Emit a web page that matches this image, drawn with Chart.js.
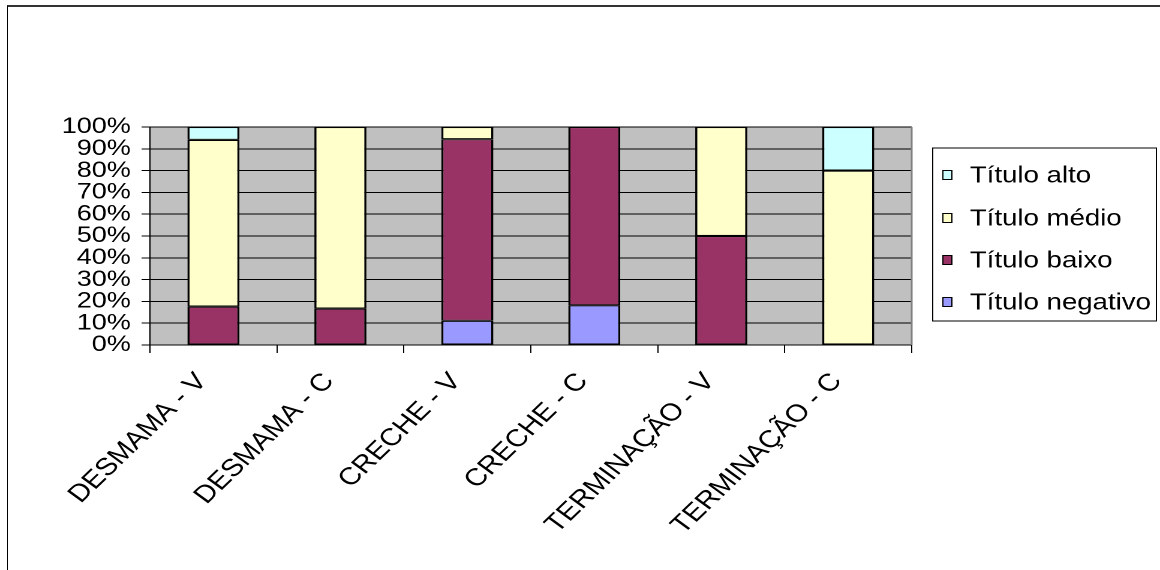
<!DOCTYPE html>
<html>
<head>
<meta charset="utf-8">
<script src="https://cdn.jsdelivr.net/npm/chart.js@4.4.1/dist/chart.umd.min.js"></script>
<style>
  html, body { margin: 0; padding: 0; background: #fff; overflow: hidden; }
  #frame {
    position: absolute; left: 7px; top: 5px; width: 1200px; height: 600px;
    border-left: 1px solid #000; border-top: 2px solid #333;
  }
  /* the chart is laid out 967px wide and widened to the full 1160px */
  #wrap {
    position: absolute; left: 0; top: 0; width: 967px; height: 570px;
    transform: scaleX(1.19959); transform-origin: 0 0;
  }
  #c { width: 967px; height: 570px; display: block; }
</style>
</head>
<body>
<div id="frame"></div>
<div id="wrap"><canvas id="c" width="967" height="570"></canvas></div>
<script>
const categories = ['DESMAMA - V', 'DESMAMA - C', 'CRECHE - V', 'CRECHE - C', 'TERMINAÇÃO - V', 'TERMINAÇÃO - C'];
const seriesNames = ['Título negativo', 'Título baixo', 'Título médio', 'Título alto'];
const tituloNegativo = [0, 0, 11.1, 18.2, 0, 0];
const tituloBaixo    = [17.6, 16.7, 83.3, 81.8, 50, 0];
const tituloMedio    = [76.5, 83.3, 5.6, 0, 50, 80];
const tituloAlto     = [5.9, 0, 0, 0, 0, 20];
const yTicks = [0, 10, 20, 30, 40, 50, 60, 70, 80, 90, 100];
const seriesColors = ['#9999ff', '#993366', '#ffffcc', '#ccffff'];

const FONT = '"Liberation Sans", Arial, sans-serif';

// gray plot background and the light right edge of the plot
const plotArea = {
  id: 'plotArea',
  beforeDraw(chart) {
    const { ctx, chartArea: a } = chart;
    ctx.save();
    ctx.fillStyle = '#c0c0c0';
    ctx.fillRect(a.left, a.top, a.right - a.left, a.bottom - a.top);
    ctx.restore();
  },
  afterDraw(chart) {
    const { ctx, chartArea: a } = chart;
    ctx.save();
    ctx.strokeStyle = '#808080';
    ctx.lineWidth = 1.5;
    ctx.beginPath();
    ctx.moveTo(a.right, a.top);
    ctx.lineTo(a.right, a.bottom);
    ctx.stroke();
    ctx.restore();
  }
};

// boxed legend on the right, top series first
const boxLegend = {
  id: 'boxLegend',
  afterDraw(chart) {
    const { ctx } = chart;
    const box = { left: 777.5, top: 148, right: 964, bottom: 321 };
    const rows = [175, 218, 260, 302];
    ctx.save();
    ctx.strokeStyle = '#000';
    ctx.lineWidth = 1;
    ctx.strokeRect(box.left, box.top, box.right - box.left, box.bottom - box.top);
    const ds = chart.data.datasets.slice().reverse();
    ds.forEach((d, i) => {
      const y = rows[i];
      ctx.fillStyle = d.backgroundColor;
      ctx.fillRect(786, y - 4.5, 7.5, 9);
      ctx.strokeStyle = '#000';
      ctx.lineWidth = 1;
      ctx.strokeRect(786, y - 4.5, 7.5, 9);
      ctx.fillStyle = '#000';
      ctx.font = '23px ' + FONT;
      ctx.textAlign = 'left';
      ctx.textBaseline = 'middle';
      ctx.fillText(d.label, 808.5, y + 1);
    });
    ctx.restore();
  }
};

const seriesValues = [tituloNegativo, tituloBaixo, tituloMedio, tituloAlto];

new Chart(document.getElementById('c'), {
  type: 'bar',
  data: {
    labels: categories,
    datasets: seriesNames.map((name, i) => ({
      label: name,
      data: seriesValues[i],
      backgroundColor: seriesColors[i],
      borderColor: '#000',
      borderWidth: { left: 1.8, right: 1.8, top: 1.1, bottom: 1.1 },
      borderSkipped: false,
      categoryPercentage: 0.82,
      barPercentage: 0.5
    }))
  },
  options: {
    responsive: false,
    maintainAspectRatio: false,
    animation: false,
    devicePixelRatio: 2,
    layout: { padding: { left: 0, top: 127, right: 207, bottom: 0 } },
    plugins: { legend: { display: false }, tooltip: { enabled: false } },
    scales: {
      x: {
        stacked: true,
        afterFit(scale) { scale.height = 225; },
        grid: { drawOnChartArea: false, drawTicks: true, tickLength: 8, color: '#000', lineWidth: 1, offset: true },
        border: { color: '#000', width: 1 },
        ticks: {
          autoSkip: false, minRotation: 49, maxRotation: 49,
          padding: 14.5, labelOffset: -9.5,
          color: '#000', font: { family: FONT, size: 24.5 }
        }
      },
      y: {
        stacked: true,
        min: 0, max: 100,
        afterFit(scale) { scale.width = 125; },
        afterBuildTicks(scale) { scale.ticks = yTicks.map(v => ({ value: v })); },
        grid: { color: '#000', lineWidth: 1, tickLength: 7, drawTicks: true },
        border: { color: '#000', width: 1 },
        ticks: {
          autoSkip: false,
          padding: 9, color: '#000',
          font: { family: FONT, size: 22.5 },
          callback: v => v + '%'
        }
      }
    }
  },
  plugins: [plotArea, boxLegend]
});
</script>
</body>
</html>
